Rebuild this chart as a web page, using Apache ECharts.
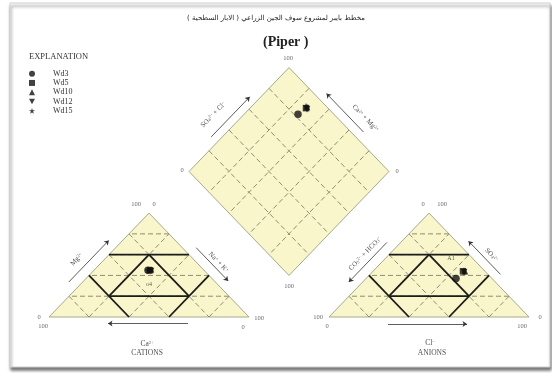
<!DOCTYPE html>
<html>
<head>
<meta charset="utf-8">
<script src="https://cdn.jsdelivr.net/npm/echarts@6/dist/echarts.min.js"></script>
<style>
  html, body { margin: 0; padding: 0; background: #ffffff; }
  #chart { width: 552px; height: 373px; }
</style>
</head>
<body>
<div id="chart"></div>
<script>
// ---- Sample chemistry (percent of total meq) ----
const samples = ['Wd3', 'Wd5', 'Wd10', 'Wd12', 'Wd15'];
const ca   = [28, 27, 26, 27, 28];
const mg   = [45, 45, 46, 44, 45];
const naK  = [27, 28, 28, 29, 27];
const hco3 = [18, 11, 10, 11, 10];
const so4  = [37, 44, 44, 43, 45];
const cl   = [45, 45, 46, 46, 45];

// ---- Scale and text ----
const gridSteps = [20, 40, 60, 80];
const boldSteps = [20, 60];
const scaleEnds = ['0', '100'];
const mainTitle = 'مخطط بايبر لمشروع سوف الجين الزراعي ( الابار السطحية )';
const subTitle = '(Piper )';
const legendTitle = 'EXPLANATION';
const cationAxes = ['Ca{sup|2+}', 'Mg{sup|2+}', 'Na{sup|+} + K{sup|+}'];
const anionAxes = ['Cl{sup|−}', 'CO{sub|3}{sup|2−} + HCO{sub|3}{sup|−}', 'SO{sub|4}{sup|2−}'];
const diamondAxes = ['SO{sub|4}{sup|2−} + Cl{sup|−}', 'Ca{sup|2+} + Mg{sup|2+}'];
const groupNames = ['CATIONS', 'ANIONS'];
const pointTags = ['o4', 'A1'];

// ---- Layout of the plot units on the page ----
const W = 552, HT = 373;
const OX = 49, OY = 317, SX = 200, SY = 120;
const R3 = Math.sqrt(3) / 2;
const RX = 1.4;          // left corner of the anion triangle
const CAP = 0.6;         // facies lines kept where no component exceeds 60 %
const SERIF = 'Liberation Serif';

const X = v => OX + v * SX, Y = v => OY - v * SY;
const ux = p => (p - OX) / SX, uy = p => (OY - p) / SY;

// [left, right, apex] fractions -> plot units
const tern = (ox, c) => [ox + c[1] + c[2] / 2, c[2] * R3];
// projection into the central field from Na+K and HCO3 fractions
const diamond = (na, hc) => [(RX + 1 + na - hc) / 2, R3 * (RX + 1 - na - hc)];

const LT = { L: tern(0, [1, 0, 0]), R: tern(0, [0, 1, 0]), A: tern(0, [0, 0, 1]) };
const RT = { L: tern(RX, [1, 0, 0]), R: tern(RX, [0, 1, 0]), A: tern(RX, [0, 0, 1]) };
const DM = { B: diamond(1, 1), R: diamond(1, 0), T: diamond(0, 0), L: diamond(0, 1) };
const fields = [[LT.L, LT.R, LT.A], [RT.L, RT.R, RT.A], [DM.B, DM.R, DM.T, DM.L]];

function ternLines(ox, steps, cap) {
  const segs = [];
  steps.forEach(s => {
    const f = s / 100, rest = 1 - f;
    for (let i = 0; i < 3; i++) {
      const j = (i + 1) % 3, k = (i + 2) % 3;
      const lo = Math.max(0, rest - cap), hi = Math.min(rest, cap);
      if (hi <= lo + 1e-9) continue;
      const c1 = [0, 0, 0], c2 = [0, 0, 0];
      c1[i] = f; c1[j] = lo; c1[k] = rest - lo;
      c2[i] = f; c2[j] = hi; c2[k] = rest - hi;
      const a = tern(ox, c1), b = tern(ox, c2);
      segs.push([a[0], a[1], b[0], b[1]]);
    }
  });
  return segs;
}
function diamondLines(steps) {
  const segs = [];
  steps.forEach(s => {
    const f = s / 100;
    let a = diamond(f, 0), b = diamond(f, 1);
    segs.push([a[0], a[1], b[0], b[1]]);
    a = diamond(0, f); b = diamond(1, f);
    segs.push([a[0], a[1], b[0], b[1]]);
  });
  return segs;
}
const dashedSegs = ternLines(0, gridSteps, 1).concat(ternLines(RX, gridSteps, 1), diamondLines(gridSteps));
const boldSegs = ternLines(0, boldSteps, CAP).concat(ternLines(RX, boldSteps, CAP));

// ---- Text placed around the fields ----
const annotations = [];
function note(pt, dx, dy, text, extra) {
  annotations.push({ value: [ux(X(pt[0]) + dx), uy(Y(pt[1]) + dy)], label: Object.assign({ formatter: text }, extra || {}) });
}
function offsetPoint(p0, p1, t, off) {
  const a = [X(p0[0]), Y(p0[1])], b = [X(p1[0]), Y(p1[1])];
  const dx = b[0] - a[0], dy = b[1] - a[1], L = Math.hypot(dx, dy);
  return [ux(a[0] + dx * t + dy / L * off), uy(a[1] + dy * t - dx / L * off)];
}
const ANG = Math.atan2(R3 * SY, 0.5 * SX) * 180 / Math.PI;
function edgeNote(p0, p1, t, off, text, rot) {
  annotations.push({ value: offsetPoint(p0, p1, t, off), label: { formatter: text, rotate: rot, fontSize: 7, color: '#222' } });
}
const arrows = [];
function edgeArrow(p0, p1, t0, t1, off, headAtEnd) {
  const a = offsetPoint(p0, p1, t0, off), b = offsetPoint(p0, p1, t1, off);
  arrows.push({ coords: headAtEnd ? [a, b] : [b, a] });
}

const [lo, hi] = scaleEnds;
note(LT.A, -13, -9, hi); note(LT.A, 5, -9, lo);
note(LT.L, -10, 0, lo); note(LT.L, -6, 9.5, hi);
note(LT.R, 10, 1, hi); note(LT.R, -6, 10, lo);
note(RT.A, -6, -9, lo); note(RT.A, 13, -9, hi);
note(RT.L, -11, 0.5, hi); note(RT.L, -2, 9.5, lo);
note(RT.R, 11, 0.5, lo); note(RT.R, -7, 9.5, hi);
note(DM.T, -1, -9, hi); note(DM.L, -7, -1, lo); note(DM.R, 8, 0, lo); note(DM.B, 0, 11, hi);

edgeNote(LT.L, LT.A, 0.42, 20, cationAxes[1], ANG);
edgeNote(LT.A, LT.R, 0.58, 16, cationAxes[2], -ANG);
edgeNote(RT.L, RT.A, 0.49, 18, anionAxes[1], ANG);
edgeNote(RT.A, RT.R, 0.51, 16, anionAxes[2], -ANG);
edgeNote(DM.L, DM.T, 0.40, 22, diamondAxes[0], ANG);
edgeNote(DM.T, DM.R, 0.62, 20, diamondAxes[1], -ANG);

edgeArrow(LT.L, LT.A, 0.27, 0.67, 10, true);
edgeArrow(LT.A, LT.R, 0.40, 0.72, 10, true);
edgeArrow(RT.L, RT.A, 0.27, 0.65, 10, false);
edgeArrow(RT.A, RT.R, 0.33, 0.65, 9, false);
edgeArrow(DM.L, DM.T, 0.28, 0.665, 8, true);
edgeArrow(DM.T, DM.R, 0.31, 0.68, 9, false);
edgeArrow(LT.R, LT.L, 0.305, 0.705, 6.5, true);
edgeArrow(RT.R, RT.L, 0.31, 0.705, 7, false);

const lMid = tern(0, [0.5, 0.5, 0]), rMid = tern(RX, [0.5, 0.5, 0]);
note(lMid, -2, 27, cationAxes[0], { fontSize: 7.5, color: '#222' });
note(lMid, -2, 36, groupNames[0], { fontSize: 7.5, color: '#222' });
note(rMid, 1, 26, anionAxes[0], { fontSize: 7.5, color: '#222' });
note(rMid, 3, 36, groupNames[1], { fontSize: 7.5, color: '#222' });

// ---- Sample markers ----
const symbols = ['circle', 'rect', 'triangle', 'path://M0,0L10,0L5,9Z',
  'path://M5,0L6.2,3.6L10,3.6L6.9,5.9L8.1,9.5L5,7.3L1.9,9.5L3.1,5.9L0,3.6L3.8,3.6Z'];
const sampleSeries = samples.map((name, i) => {
  const ct = ca[i] + mg[i] + naK[i], at = hco3[i] + so4[i] + cl[i];
  const c = [ca[i] / ct, naK[i] / ct, mg[i] / ct];
  const a = [hco3[i] / at, cl[i] / at, so4[i] / at];
  const pts = [{ value: tern(0, c) }, { value: tern(RX, a) }, { value: diamond(c[1], a[0]) }];
  if (i === 1) {
    pts[0].label = { show: true, formatter: pointTags[0], position: 'inside', offset: [-1, 14], fontSize: 6, fontFamily: SERIF, color: '#333' };
    pts[1].label = { show: true, formatter: pointTags[1], position: 'inside', offset: [-12, -13], fontSize: 6, fontFamily: SERIF, color: '#333' };
  }
  return {
    type: 'scatter', name, symbol: symbols[i], symbolSize: i === 0 ? 7.5 : 6.5, z: 6, silent: true,
    itemStyle: { color: '#111' }, emphasis: { disabled: true }, data: pts
  };
});

const richText = {
  sup: { fontSize: 4.5, verticalAlign: 'top', fontFamily: SERIF, color: '#222' },
  sub: { fontSize: 4.5, verticalAlign: 'bottom', fontFamily: SERIF, color: '#222' }
};

const chart = echarts.init(document.getElementById('chart'), null, { renderer: 'canvas', width: W, height: HT });
chart.setOption({
  animation: false,
  backgroundColor: '#ffffff',
  graphic: [{
    type: 'rect', z: -10, silent: true,
    shape: { x: 10, y: 3, width: 540, height: 364 },
    style: { fill: '#ffffff', stroke: '#cfcfcf', lineWidth: 1, shadowColor: 'rgba(0,0,0,0.55)', shadowBlur: 3, shadowOffsetX: 1, shadowOffsetY: 3 }
  }],
  title: [
    { text: mainTitle, left: 'center', top: 10, textStyle: { fontFamily: 'DejaVu Sans', fontSize: 7, fontWeight: 'normal', color: '#222' } },
    { text: subTitle, left: 258, top: 30, textStyle: { fontFamily: SERIF, fontSize: 14, fontWeight: 'bold', color: '#222' } },
    { text: legendTitle, left: 24, top: 47, textStyle: { fontFamily: SERIF, fontSize: 8.5, fontWeight: 'normal', color: '#333' } }
  ],
  legend: {
    data: samples, orient: 'vertical', left: 24, top: 64,
    itemWidth: 6, itemHeight: 6, itemGap: 0, selectedMode: false,
    textStyle: { fontFamily: SERIF, fontSize: 8, color: '#333', lineHeight: 9.3, padding: [0, 0, 0, 13] }
  },
  grid: { left: 0, right: 0, top: 0, bottom: 0 },
  xAxis: { type: 'value', show: false, min: ux(0), max: ux(W) },
  yAxis: { type: 'value', show: false, min: uy(HT), max: uy(0) },
  series: [
    {
      type: 'custom', silent: true, z: 1,
      data: fields.map((f, i) => [f[0][0], f[0][1], i]),
      renderItem: (params, api) => {
        const poly = fields[params.dataIndex].map(p => api.coord(p));
        return { type: 'polygon', shape: { points: poly }, style: { fill: '#f8f6ca', stroke: '#a9a98f', lineWidth: 1 } };
      }
    },
    {
      type: 'custom', silent: true, z: 2, data: dashedSegs, encode: { x: [0, 2], y: [1, 3] },
      renderItem: (params, api) => {
        const a = api.coord([api.value(0), api.value(1)]), b = api.coord([api.value(2), api.value(3)]);
        return { type: 'line', shape: { x1: a[0], y1: a[1], x2: b[0], y2: b[1] }, style: { stroke: '#8e8e74', lineWidth: 1, lineDash: [5, 3] } };
      }
    },
    {
      type: 'custom', silent: true, z: 3, data: boldSegs, encode: { x: [0, 2], y: [1, 3] },
      renderItem: (params, api) => {
        const a = api.coord([api.value(0), api.value(1)]), b = api.coord([api.value(2), api.value(3)]);
        return { type: 'line', shape: { x1: a[0], y1: a[1], x2: b[0], y2: b[1] }, style: { stroke: '#1c1c1c', lineWidth: 1.8 } };
      }
    },
    {
      type: 'lines', coordinateSystem: 'cartesian2d', silent: true, z: 4,
      symbol: ['none', 'arrow'], symbolSize: 4.5,
      lineStyle: { color: '#333', width: 0.8, opacity: 1 },
      data: arrows
    },
    {
      type: 'scatter', silent: true, z: 5, symbolSize: 0, emphasis: { disabled: true },
      label: { show: true, position: 'inside', fontFamily: SERIF, fontSize: 6.5, color: '#444', rich: richText },
      data: annotations
    }
  ].concat(sampleSeries)
});
</script>
</body>
</html>
